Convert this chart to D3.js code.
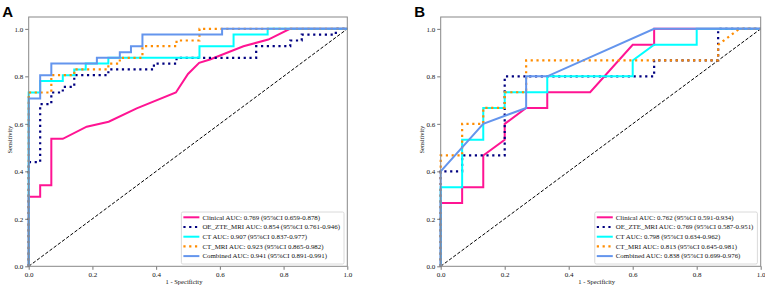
<!DOCTYPE html>
<html>
<head>
<meta charset="utf-8">
<script src="https://cdn.jsdelivr.net/npm/d3@7"></script>
<style>
  body { margin: 0; background: #fff; }
  svg { display: block; }
</style>
</head>
<body>
<svg id="chart" width="765" height="286"></svg>
<script>
// tick values shared by both panels
const ticks = [0, 0.2, 0.4, 0.6, 0.8, 1.0];
const seriesNames = ["Clinical", "OE_ZTE_MRI", "CT", "CT_MRI", "Combined"];

// panel A  ([fpr, tpr] points)
const clinicalA = [[0,0],[0,0.293],[0.036,0.293],[0.036,0.341],[0.071,0.341],[0.071,0.537],[0.107,0.537],[0.182,0.588],[0.251,0.609],[0.339,0.665],[0.462,0.732],[0.500,0.810],[0.535,0.857],[0.569,0.871],[0.674,0.927],[0.752,0.955],[0.820,1],[1,1]];
const oeA = [[0,0],[0,0.439],[0.036,0.439],[0.036,0.683],[0.071,0.683],[0.071,0.732],[0.107,0.732],[0.107,0.756],[0.143,0.756],[0.143,0.805],[0.25,0.805],[0.25,0.829],[0.393,0.829],[0.393,0.854],[0.464,0.854],[0.464,0.878],[0.714,0.878],[0.714,0.927],[0.821,0.927],[0.821,0.951],[0.857,0.951],[0.857,0.976],[0.964,0.976],[0.964,1],[1,1]];
const ctA = [[0,0],[0,0.732],[0.036,0.732],[0.036,0.780],[0.107,0.780],[0.107,0.805],[0.143,0.805],[0.143,0.829],[0.179,0.829],[0.179,0.854],[0.25,0.854],[0.25,0.878],[0.536,0.878],[0.536,0.927],[0.643,0.927],[0.643,0.976],[0.75,0.976],[0.75,1],[1,1]];
const ctMriA = [[0,0],[0,0.732],[0.071,0.732],[0.071,0.805],[0.143,0.805],[0.143,0.829],[0.25,0.829],[0.25,0.854],[0.286,0.854],[0.286,0.878],[0.357,0.878],[0.357,0.927],[0.464,0.927],[0.464,0.951],[0.536,0.951],[0.536,1],[1,1]];
const combinedA = [[0,0],[0,0.707],[0.036,0.707],[0.036,0.805],[0.071,0.805],[0.071,0.854],[0.214,0.854],[0.214,0.878],[0.286,0.878],[0.286,0.902],[0.321,0.902],[0.321,0.927],[0.357,0.927],[0.357,0.976],[0.607,0.976],[0.607,1],[1,1]];
const aucA = ["0.769 (95%CI 0.659-0.878)", "0.854 (95%CI 0.761-0.946)", "0.907 (95%CI 0.837-0.977)", "0.923 (95%CI 0.865-0.982)", "0.941 (95%CI 0.891-0.991)"];

// panel B
const clinicalB = [[0,0],[0,0.267],[0.067,0.267],[0.067,0.333],[0.133,0.333],[0.133,0.467],[0.2,0.533],[0.2,0.6],[0.267,0.667],[0.333,0.667],[0.333,0.733],[0.467,0.733],[0.6,0.933],[0.667,0.933],[0.667,1],[1,1]];
const oeB = [[0,0],[0,0.4],[0.067,0.4],[0.067,0.467],[0.2,0.467],[0.2,0.8],[0.667,0.8],[0.667,0.867],[0.867,0.867],[0.867,1],[1,1]];
const ctB = [[0,0],[0,0.333],[0.067,0.333],[0.067,0.533],[0.133,0.533],[0.133,0.667],[0.2,0.667],[0.2,0.733],[0.333,0.733],[0.333,0.8],[0.6,0.8],[0.6,0.867],[0.667,0.933],[0.8,0.933],[0.8,1],[1,1]];
const ctMriB = [[0,0],[0,0.467],[0.067,0.467],[0.067,0.6],[0.133,0.6],[0.133,0.667],[0.2,0.667],[0.2,0.733],[0.267,0.733],[0.267,0.867],[0.867,0.867],[0.867,0.933],[0.933,1],[1,1]];
const combinedB = [[0,0],[0,0.4],[0.133,0.6],[0.267,0.667],[0.267,0.8],[0.333,0.8],[0.667,1],[1,1]];
const aucB = ["0.762 (95%CI 0.591-0.934)", "0.769 (95%CI 0.587-0.951)", "0.798 (95%CI 0.634-0.962)", "0.813 (95%CI 0.645-0.981)", "0.838 (95%CI 0.699-0.976)"];

// line styles, one per series
const styles = [
  {color: "#ff1493", dash: null},
  {color: "#000080", dash: "2.2,3.6"},
  {color: "#00ffff", dash: null},
  {color: "#ff8c00", dash: "2.2,3.6"},
  {color: "#6495ed", dash: null}
];

const svg = d3.select("#chart");
const serif = "'Liberation Serif', 'Times New Roman', serif";

function drawPanel(box, letter, curves, aucs) {
  const x = d3.scaleLinear().domain([0, 1]).range([box.left, box.right]);
  const y = d3.scaleLinear().domain([0, 1.05]).range([box.bottom, box.top]);
  const g = svg.append("g");

  const line = d3.line().x(d => x(d[0])).y(d => y(d[1]));

  // chance line
  g.append("path")
    .attr("d", line([[0, 0], [1, 1]]))
    .attr("stroke", "#000").attr("stroke-width", 1)
    .attr("stroke-dasharray", "3.4,1.8")
    .attr("fill", "none");

  curves.forEach((c, i) => {
    g.append("path")
      .attr("d", line(c))
      .attr("fill", "none")
      .attr("stroke", styles[i].color)
      .attr("stroke-width", styles[i].dash ? 2.2 : 2)
      .attr("stroke-dasharray", styles[i].dash);
  });

  // axes
  const xAxis = d3.axisBottom(x).tickValues(ticks).tickFormat(d3.format(".1f")).tickSizeOuter(0).tickSize(3.5).tickPadding(2);
  const yAxis = d3.axisLeft(y).tickValues(ticks).tickFormat(d3.format(".1f")).tickSizeOuter(0).tickSize(3.5).tickPadding(2);
  const gx = g.append("g").attr("transform", `translate(0,${box.bottom})`).call(xAxis);
  const gy = g.append("g").attr("transform", `translate(${box.left},0)`).call(yAxis);
  [gx, gy].forEach(a => {
    a.select(".domain").remove();
    a.selectAll(".tick line").attr("stroke", "#555").attr("stroke-width", 0.8);
    a.selectAll(".tick text").attr("fill", "#111").style("font-family", serif).style("font-size", "7px");
  });

  // frame
  g.append("rect")
    .attr("x", box.left).attr("y", box.top)
    .attr("width", box.right - box.left).attr("height", box.bottom - box.top)
    .attr("fill", "none").attr("stroke", "#888").attr("stroke-width", 1);

  g.append("text")
    .attr("x", (box.left + box.right) / 2 - 4).attr("y", 283.5)
    .attr("text-anchor", "middle")
    .style("font-family", serif).style("font-size", "6.5px").attr("fill", "#111")
    .text("1 - Specificity");
  g.append("text")
    .attr("transform", `translate(${box.left - 17},${(box.top + box.bottom) / 2 - 2}) rotate(-90)`)
    .attr("text-anchor", "middle")
    .style("font-family", serif).style("font-size", "6.5px").attr("fill", "#111")
    .text("Sensitivity");

  g.append("text")
    .attr("x", box.left - 26.5).attr("y", 17.3)
    .style("font-family", "'Liberation Sans', Arial, sans-serif")
    .style("font-size", "15px").style("font-weight", "bold")
    .text(letter);

  // legend, lower right
  const leg = g.append("g");
  const rowH = 9.7;
  const texts = aucs.map((a, i) => seriesNames[i] + " AUC: " + a);
  const lt = leg.selectAll("text").data(texts).join("text")
    .attr("y", (d, i) => 217.3 + i * rowH)
    .attr("dy", "0.33em")
    .style("font-family", serif).style("font-size", "6.9px").attr("fill", "#111")
    .text(d => d);
  const maxW = d3.max(lt.nodes(), n => n.getComputedTextLength());
  const legRight = box.right - 3.3;
  const legLeft = legRight - (maxW + 25);
  lt.attr("x", legLeft + 21);
  leg.insert("rect", "text")
    .attr("x", legLeft).attr("y", 212)
    .attr("width", legRight - legLeft).attr("height", 52)
    .attr("rx", 1.5)
    .attr("fill", "#fff").attr("fill-opacity", 0.8)
    .attr("stroke", "#d0d0d0").attr("stroke-width", 0.8);
  leg.selectAll("line").data(styles).join("line")
    .attr("x1", legLeft + 2).attr("x2", legLeft + 18)
    .attr("y1", (d, i) => 217.3 + i * rowH).attr("y2", (d, i) => 217.3 + i * rowH)
    .attr("stroke", d => d.color)
    .attr("stroke-width", d => d.dash ? 2.2 : 2)
    .attr("stroke-dasharray", d => d.dash);
}

drawPanel({left: 28.7, right: 347.3, top: 17, bottom: 266.3}, "A",
  [clinicalA, oeA, ctA, ctMriA, combinedA], aucA);
drawPanel({left: 440.7, right: 760.7, top: 17, bottom: 266.3}, "B",
  [clinicalB, oeB, ctB, ctMriB, combinedB], aucB);
</script>
</body>
</html>
